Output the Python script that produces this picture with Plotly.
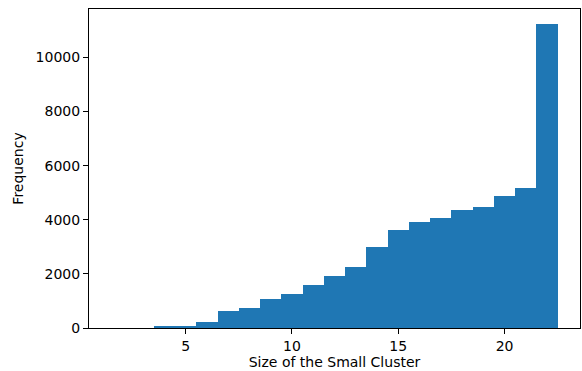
import plotly.graph_objects as go

# Histogram bin centres (size of the small cluster) and counts
cluster_sizes = [2, 3, 4, 5, 6, 7, 8, 9, 10, 11, 12, 13, 14, 15, 16, 17, 18, 19, 20, 21, 22]
frequencies = [0, 0, 60, 80, 230, 615, 740, 1060, 1270, 1600, 1920, 2250, 2990, 3605, 3925,
               4075, 4355, 4465, 4895, 5165, 11230]
x_ticks = [5, 10, 15, 20]
y_ticks = [0, 2000, 4000, 6000, 8000, 10000]
y_tick_labels = ["0", "2000", "4000", "6000", "8000", "10000"]

FONT = "DejaVu Sans"

fig = go.Figure(
    go.Bar(
        x=cluster_sizes,
        y=frequencies,
        width=1,
        marker=dict(color="#1f77b4", line=dict(width=0)),
    )
)

axis_common = dict(
    showline=True,
    mirror=True,
    linecolor="black",
    linewidth=1.1,
    ticks="outside",
    ticklen=5,
    tickwidth=1.1,
    tickcolor="black",
    showgrid=False,
    zeroline=False,
    automargin=False,
    tickfont=dict(family=FONT, size=14, color="black"),
)

fig.update_layout(
    width=582,
    height=371,
    margin=dict(l=89, r=2, t=9, b=43),
    paper_bgcolor="white",
    plot_bgcolor="white",
    bargap=0,
    showlegend=False,
    font=dict(family=FONT, size=14, color="black"),
    xaxis=dict(
        range=[0.45, 23.55],
        tickvals=x_ticks,
        title=dict(text="Size of the Small Cluster", font=dict(family=FONT, size=14, color="black"), standoff=4),
        **axis_common,
    ),
    yaxis=dict(
        range=[0, 11790],
        tickvals=y_ticks,
        ticktext=y_tick_labels,
        title=dict(text="Frequency", font=dict(family=FONT, size=14, color="black"), standoff=8),
        **axis_common,
    ),
)

fig.write_html(
    "out.html",
    config={"displayModeBar": False},
    post_script="document.body.style.margin='0';document.body.style.overflow='hidden';",
)
